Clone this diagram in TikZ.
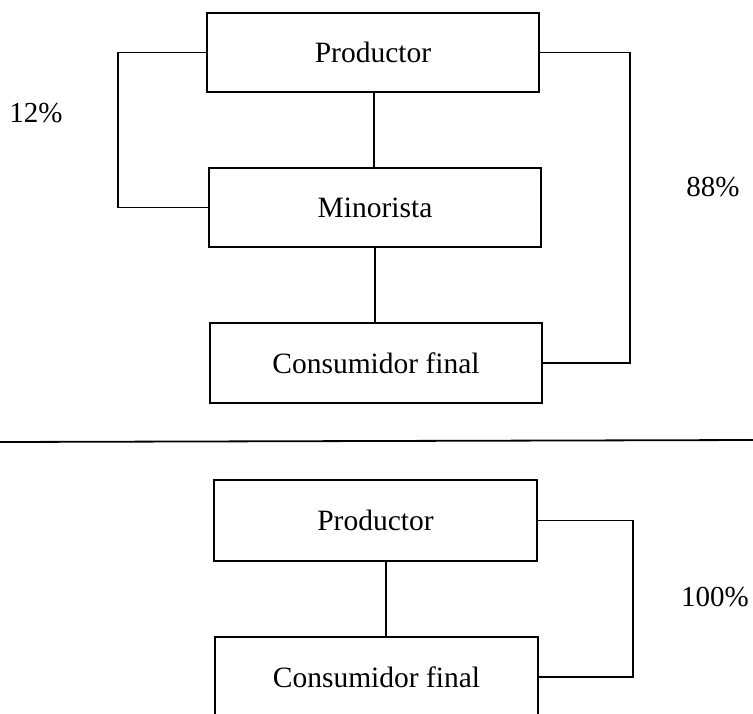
\documentclass[tikz,border=0pt]{standalone}
\usepackage{fontspec}
\setmainfont{Liberation Serif}
\begin{document}
\begin{tikzpicture}[x=1pt,y=-1pt,
  box/.style={draw, line width=1.4pt, rectangle, inner sep=0pt, outer sep=0pt,
    font=\fontsize{29.5}{31}\selectfont},
  wide/.style={box, minimum width=332pt, minimum height=79pt},
  narrow/.style={box, minimum width=323pt, minimum height=81pt},
  link/.style={line width=1.3pt},
  pct/.style={font=\fontsize{29}{31}\selectfont, inner sep=0pt}]
\useasboundingbox (0,0) rectangle (753,713);
\clip (0,0) rectangle (753,713);
% upper diagram
\node[wide] (p1) at (373,52.5) {Productor};
\node[wide] (m)  at (375,207.5) {Minorista};
\node[wide, minimum height=80pt] (c1) at (376,363) {Consumidor final};
\coordinate (vu) at (374,92);
\draw[link] (vu) -- (vu |- m.north);
\draw[link] (m.south) -- (m.south |- c1.north);
\draw[link] (p1.west) -| (118,130) |- (m.west);
\draw[link] (p1.east) -| (630,200) |- (c1.east);
\node[pct] (l12) at (36,113) {12\%};
\node[pct] (l88) at (713,187) {88\%};
% separator
\coordinate (sl) at (0,442);
\coordinate (sr) at (753,440);
\draw[line width=1.8pt] (sl) -- (sr);
% lower diagram
\node[narrow] (p2) at (375.5,520.5) {Productor};
\node[narrow, minimum height=80pt] (c2) at (376.5,677) {Consumidor final};
\coordinate (vt) at (386,561);
\draw[link] (vt) -- (vt |- c2.north);
\draw[link] (p2.east) -| (633,600) |- (c2.east);
\node[pct] (l100) at (715,597) {100\%};
\end{tikzpicture}
\end{document}
